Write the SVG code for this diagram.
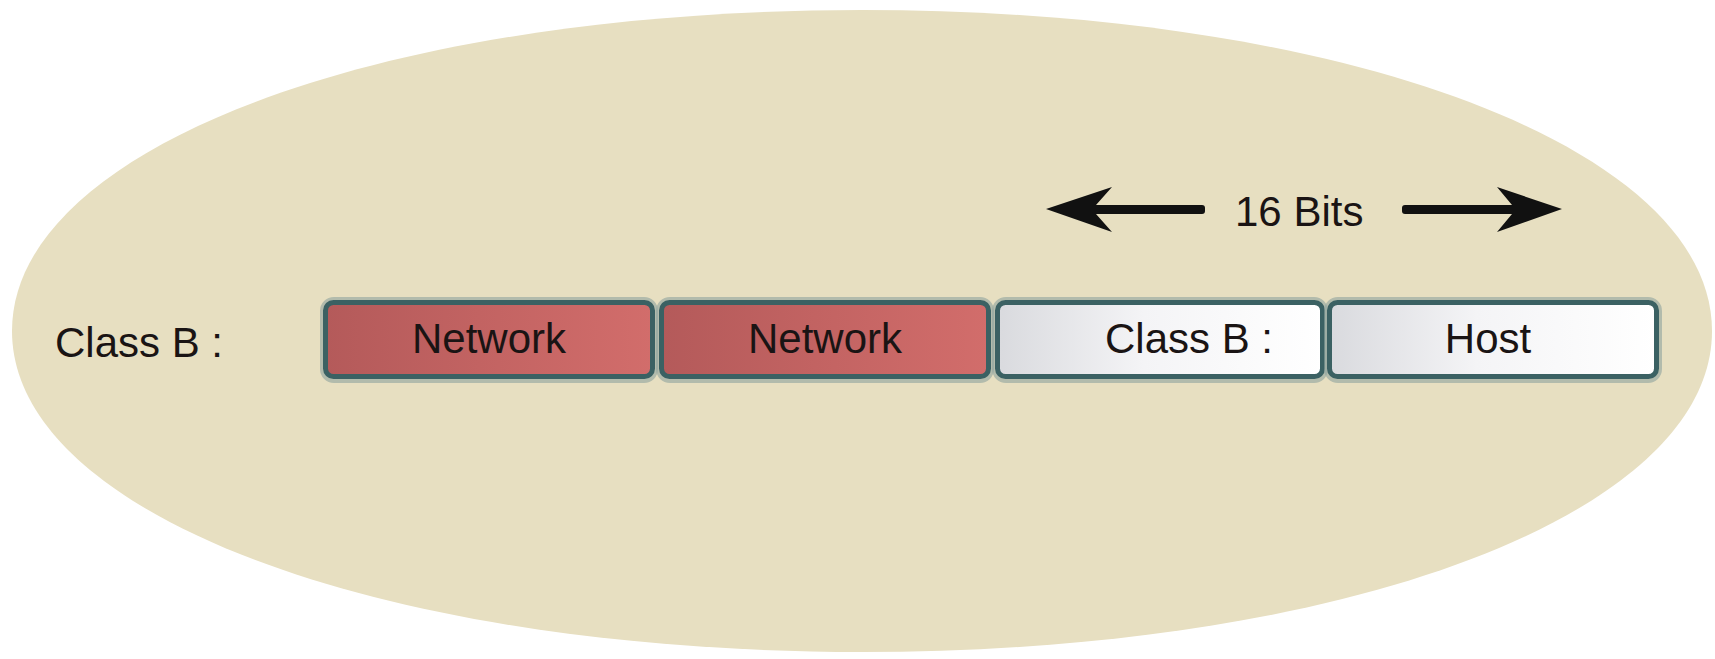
<svg xmlns="http://www.w3.org/2000/svg" width="1715" height="659" viewBox="0 0 1715 659">
<defs>
<linearGradient id="gRed" x1="0" y1="0" x2="1" y2="0">
<stop offset="0" stop-color="#b45a5a"/>
<stop offset="1" stop-color="#d26d6b"/>
</linearGradient>
<linearGradient id="gWhite" x1="0" y1="0" x2="1" y2="0">
<stop offset="0" stop-color="#d9dade"/>
<stop offset="0.45" stop-color="#f4f4f6"/>
<stop offset="1" stop-color="#ffffff"/>
</linearGradient>
<style>
.box{stroke:#3b6163;stroke-width:5}
.glow{fill:none;stroke:#8fa39f;stroke-width:10;opacity:0.6}
.t{font-family:"Liberation Sans",Arial,sans-serif;font-size:42px;fill:#1a1414}
.arrow{fill:#111}
</style>
</defs>
<rect width="1715" height="659" fill="#ffffff"/>
<path d="M12 331 C12 148 378 10 862 10 C1346 10 1712 148 1712 331 C1712 514 1346 652 862 652 C378 652 12 514 12 331 Z" fill="#e7dfc1"/>
<g id="label-classB">
<text class="t" x="55" y="357" font-size="44.5">Class B :</text>
</g>
<g id="bits-label">
<polygon class="arrow" points="1046,209 1112,187 1096,205 1096,214 1112,232"/>
<rect class="arrow" x="1092" y="205" width="113" height="9" rx="3"/>
<rect class="arrow" x="1402" y="205" width="113" height="9" rx="3"/>
<polygon class="arrow" points="1562,209 1497,187 1512,205 1512,214 1497,232"/>
<text class="t" x="1235" y="226" font-size="43.5">16 Bits</text>
</g>
<g id="box1">
<rect class="glow" x="325" y="302" width="328" height="76" rx="9"/>
<rect class="box" x="325.5" y="302.5" width="327" height="74" rx="8" fill="url(#gRed)"/>
<text class="t" x="489" y="353" text-anchor="middle" font-size="40.5">Network</text>
</g>
<g id="box2">
<rect class="glow" x="661" y="302" width="328" height="76" rx="9"/>
<rect class="box" x="661.5" y="302.5" width="327" height="74" rx="8" fill="url(#gRed)"/>
<text class="t" x="825" y="353" text-anchor="middle" font-size="40.5">Network</text>
</g>
<g id="box3">
<rect class="glow" x="997" y="302" width="326" height="76" rx="9"/>
<rect class="box" x="997.5" y="302.5" width="325" height="74" rx="8" fill="url(#gWhite)"/>
<text class="t" x="1105" y="353" font-size="44.5">Class B :</text>
</g>
<g id="box4">
<rect class="glow" x="1329" y="302" width="328" height="76" rx="9"/>
<rect class="box" x="1329.5" y="302.5" width="327" height="74" rx="8" fill="url(#gWhite)"/>
<text class="t" x="1488" y="353" text-anchor="middle" font-size="43.5">Host</text>
</g>
</svg>
